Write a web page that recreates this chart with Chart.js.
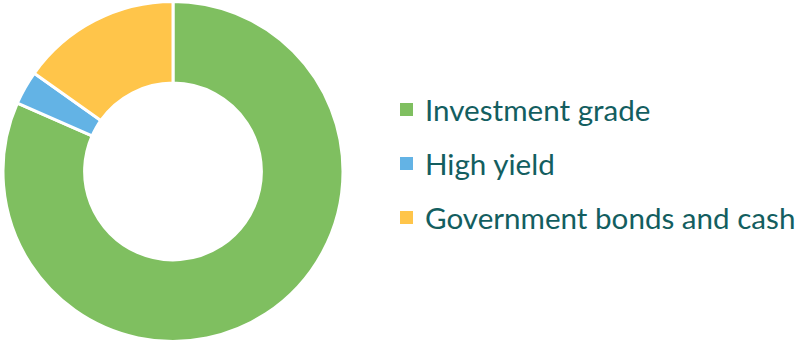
<!DOCTYPE html>
<html>
<head>
<meta charset="utf-8">
<script src="https://cdn.jsdelivr.net/npm/chart.js@4"></script>
<style>
  html, body { margin: 0; padding: 0; background: #fff; }
  #wrap { position: relative; width: 796px; height: 343px; }
  #pie { position: absolute; left: 0; top: 0; width: 346px; height: 343px; }
  #legend {
    position: absolute; left: 400px; top: 82px;
    margin: 0; padding: 0; list-style: none;
    font-family: Lato, "Noto Sans", sans-serif; font-size: 29.6px;
    color: #135e60;
  }
  #legend li { display: flex; align-items: center; height: 54px; white-space: nowrap; }
  #legend span.box { display: inline-block; width: 13px; height: 13px; margin-right: 12px; }
</style>
</head>
<body>
<div id="wrap">
  <div id="pie"><canvas id="donut-chart" width="346" height="343"></canvas></div>
  <ul id="legend"></ul>
</div>
<script>
const categories = ["Investment grade", "High yield", "Government bonds and cash"];
const shares = [81.6, 3.2, 15.2];
const colors = ["#7fbf60", "#63b3e5", "#ffc54a"];

const ctx = document.getElementById("donut-chart").getContext("2d");

new Chart(ctx, {
  type: "doughnut",
  data: {
    labels: categories,
    datasets: [{
      data: shares,
      backgroundColor: colors,
      borderColor: "#ffffff",
      borderWidth: 3,
    }],
  },
  options: {
    responsive: false,
    animation: false,
    cutout: "52%",
    plugins: {
      legend: { display: false },
      tooltip: { enabled: false },
    },
  },
});

// legend list on the right
const legend = document.getElementById("legend");
categories.forEach((name, i) => {
  const li = document.createElement("li");
  const box = document.createElement("span");
  box.className = "box";
  box.style.background = colors[i];
  li.appendChild(box);
  li.appendChild(document.createTextNode(name));
  legend.appendChild(li);
});
</script>
</body>
</html>
